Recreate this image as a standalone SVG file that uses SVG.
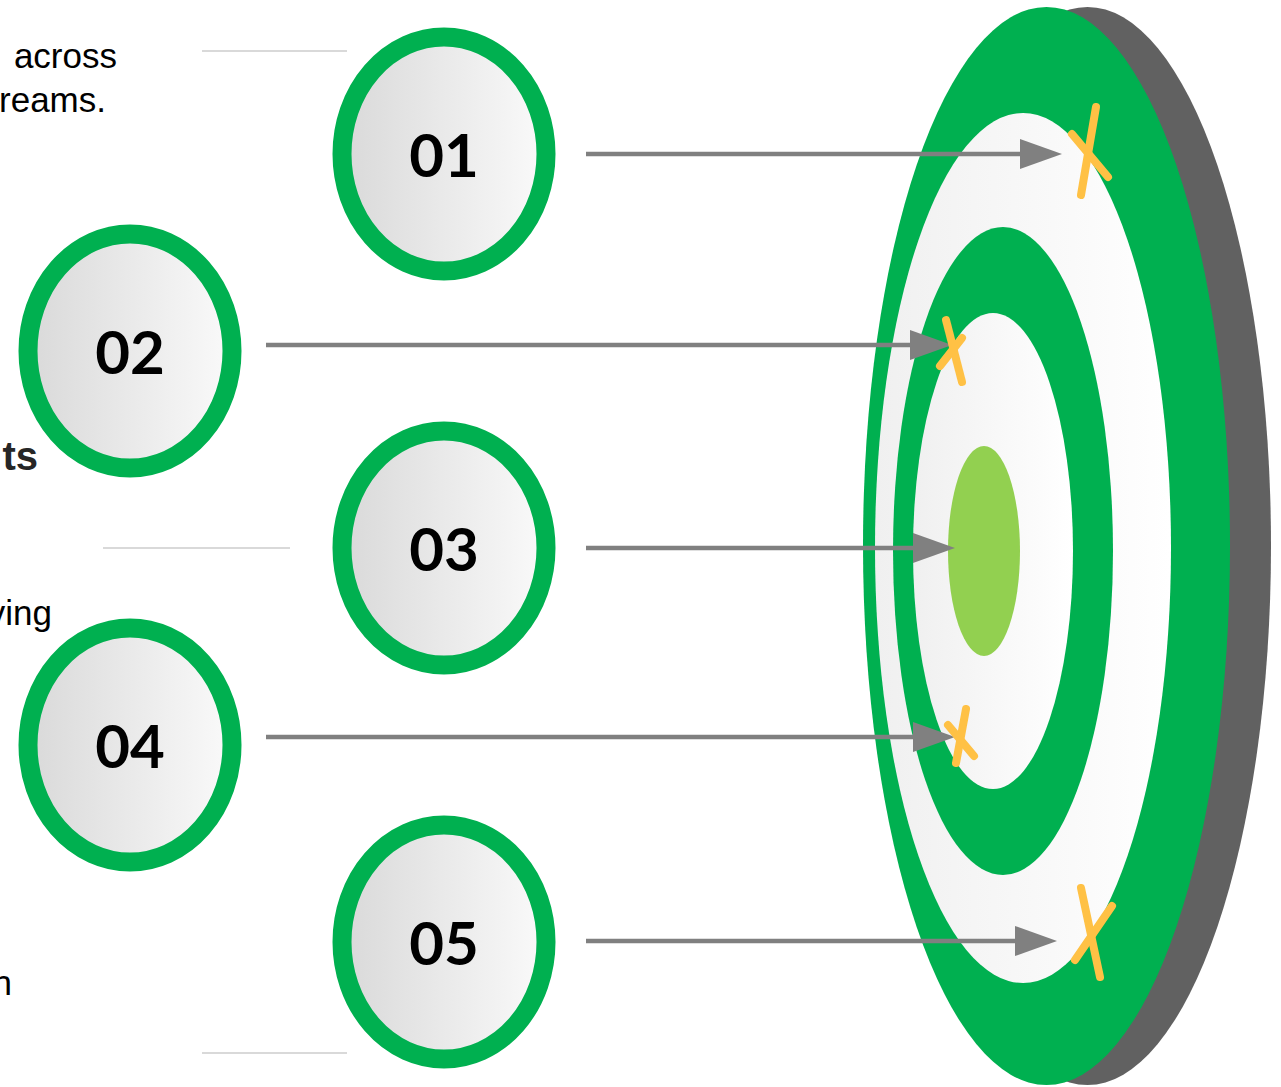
<svg xmlns="http://www.w3.org/2000/svg" width="1281" height="1087" viewBox="0 0 1281 1087">
  <defs>
    <linearGradient id="nodeFill" x1="0" y1="0" x2="1" y2="0">
      <stop offset="0" stop-color="#D9D9D9"/>
      <stop offset="1" stop-color="#FAFAFA"/>
    </linearGradient>
    <linearGradient id="ringFill" x1="0" y1="0" x2="1" y2="0">
      <stop offset="0" stop-color="#F0F0F0"/>
      <stop offset="1" stop-color="#FFFFFF"/>
    </linearGradient>
    <marker id="arrow" markerUnits="userSpaceOnUse" markerWidth="42" markerHeight="30" refX="32" refY="15" orient="auto">
      <path d="M0,0 L42,15 L0,30 Z" fill="#808080"/>
    </marker>
    <style>
      .node-ring { fill: url(#nodeFill); stroke: #00B050; stroke-width: 19; }
      .node-label { font-family: Lato, "Noto Sans", sans-serif; font-weight: 700; font-size: 60px; fill: #000000; text-anchor: middle; }
      .side-text { font-family: "Liberation Sans", Arial, sans-serif; font-size: 35px; fill: #000000; text-anchor: end; }
      .side-bold { font-family: "Liberation Sans", Arial, sans-serif; font-size: 40px; font-weight: 700; fill: #262626; text-anchor: end; }
      .divider { stroke: #D9D9D9; stroke-width: 2; }
      .connector { stroke: #808080; stroke-width: 4.5; fill: none; marker-end: url(#arrow); }
      .hit { stroke: #FFC145; stroke-width: 8; stroke-linecap: round; }
    </style>
  </defs>

  <g id="side-texts">
    <text class="side-text" x="117" y="68">across</text>
    <text class="side-text" x="106" y="112">reams.</text>
    <text class="side-bold" x="38" y="470">ts</text>
    <text class="side-text" x="52" y="625">ving</text>
    <text class="side-text" x="12" y="995">n</text>
    <line class="divider" x1="202" y1="51" x2="347" y2="51"/>
    <line class="divider" x1="103" y1="548" x2="290" y2="548"/>
    <line class="divider" x1="202" y1="1053" x2="347" y2="1053"/>
  </g>

  <g id="target">
    <ellipse cx="1087.5" cy="546" rx="183.5" ry="539" fill="#616161"/>
    <ellipse cx="1046.5" cy="546" rx="183.5" ry="539" fill="#00B050"/>
    <ellipse cx="1023" cy="548" rx="148" ry="435" fill="url(#ringFill)"/>
    <ellipse cx="1003" cy="551" rx="110" ry="324" fill="#00B050"/>
    <ellipse cx="993" cy="551" rx="80" ry="238" fill="url(#ringFill)"/>
    <ellipse cx="984" cy="551" rx="36" ry="105" fill="#92D050"/>
  </g>

  <g id="connectors">
    <line class="connector" x1="586" y1="154" x2="1052" y2="154"/>
    <line class="connector" x1="266" y1="345" x2="942" y2="345"/>
    <line class="connector" x1="586" y1="548" x2="945" y2="548"/>
    <line class="connector" x1="266" y1="737" x2="945" y2="737"/>
    <line class="connector" x1="586" y1="941" x2="1047" y2="941"/>
  </g>

  <g id="hits">
    <g id="hit-1">
      <line class="hit" x1="1096" y1="107" x2="1081" y2="195"/>
      <line class="hit" x1="1072" y1="134" x2="1108" y2="177"/>
    </g>
    <g id="hit-2">
      <line class="hit" x1="946" y1="320" x2="962" y2="382"/>
      <line class="hit" x1="962" y1="338" x2="940" y2="366"/>
    </g>
    <g id="hit-3">
      <line class="hit" x1="966" y1="709" x2="956" y2="763"/>
      <line class="hit" x1="948" y1="725" x2="974" y2="756"/>
    </g>
    <g id="hit-4">
      <line class="hit" x1="1081" y1="888" x2="1100" y2="977"/>
      <line class="hit" x1="1112" y1="906" x2="1075" y2="960"/>
    </g>
  </g>

  <g id="node-01">
    <ellipse class="node-ring" cx="444" cy="154" rx="102" ry="117"/>
    <text class="node-label" x="444" y="177">01</text>
  </g>
  <g id="node-02">
    <ellipse class="node-ring" cx="130" cy="351" rx="102" ry="117"/>
    <text class="node-label" x="130" y="374">02</text>
  </g>
  <g id="node-03">
    <ellipse class="node-ring" cx="444" cy="548" rx="102" ry="117"/>
    <text class="node-label" x="444" y="571">03</text>
  </g>
  <g id="node-04">
    <ellipse class="node-ring" cx="130" cy="745" rx="102" ry="117"/>
    <text class="node-label" x="130" y="768">04</text>
  </g>
  <g id="node-05">
    <ellipse class="node-ring" cx="444" cy="942" rx="102" ry="117"/>
    <text class="node-label" x="444" y="965">05</text>
  </g>
</svg>
